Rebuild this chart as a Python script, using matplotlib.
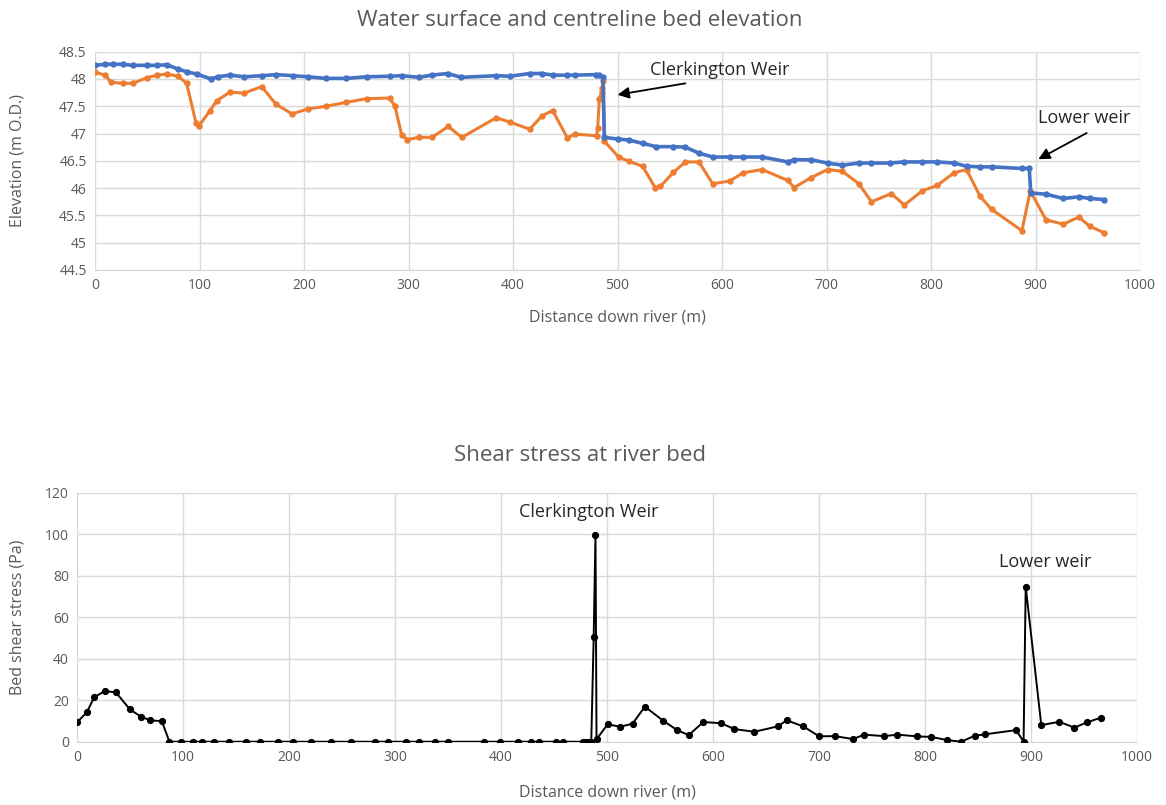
import matplotlib
matplotlib.use("Agg")
import matplotlib.pyplot as plt

# ---------------- data ----------------
# Water surface (blue)
ws_x = [0, 10, 17, 26.5, 36, 49.5, 59, 69, 79.5, 88, 97.5, 111, 117.5, 129, 143, 160, 173.5,
        189, 203.5, 221, 240, 260, 282, 293.5, 310, 322, 337.5, 350.5, 384, 397, 416, 428,
        438, 452, 459, 479.5, 482, 486, 487.4, 500, 511, 524, 537, 553, 565, 578, 591,
        607.5, 620, 638.5, 663, 669, 685, 701, 715, 731, 743, 760.5, 774, 791.5, 806,
        822, 834, 847, 858, 887, 894, 895.5, 910, 926.5, 941.5, 952, 966]
ws_y = [48.25, 48.27, 48.27, 48.27, 48.25, 48.25, 48.25, 48.26, 48.18, 48.13, 48.09, 48.00,
        48.04, 48.07, 48.04, 48.06, 48.08, 48.06, 48.04, 48.01, 48.01, 48.04, 48.05, 48.06,
        48.03, 48.07, 48.10, 48.03, 48.06, 48.05, 48.10, 48.10, 48.07, 48.07, 48.07, 48.08,
        48.07, 48.03, 46.93, 46.90, 46.88, 46.82, 46.76, 46.76, 46.75, 46.64, 46.57, 46.57,
        46.57, 46.57, 46.48, 46.52, 46.52, 46.46, 46.42, 46.46, 46.46, 46.46, 46.48, 46.48,
        46.48, 46.46, 46.40, 46.39, 46.39, 46.36, 46.36, 45.91, 45.89, 45.81, 45.84, 45.81,
        45.79]

# Centreline bed (orange)
bed_x = [0, 10, 15, 26.5, 36, 49.5, 59, 69, 79.5, 87.7, 96.7, 99.5, 110, 116.5, 129, 142.5,
         159.5, 173, 188.5, 203.5, 221, 240, 260, 282, 287, 293.5, 299, 310, 322.5, 338,
         351, 384, 397, 416, 428, 438, 452, 459, 480, 481, 482.6, 485, 485.5, 486.5, 487.4,
         501, 511, 524, 536, 541, 553.5, 565, 578, 591, 607.5, 620, 638.5, 663, 669, 685,
         701, 715, 731, 743, 762, 774.5, 791.5, 806, 822, 834, 847, 858, 887, 895, 910,
         926.5, 941.5, 952, 966]
bed_y = [48.12, 48.07, 47.94, 47.92, 47.92, 48.02, 48.07, 48.09, 48.05, 47.92, 47.19, 47.14,
         47.42, 47.60, 47.76, 47.74, 47.86, 47.54, 47.36, 47.45, 47.50, 47.57, 47.64, 47.65,
         47.50, 46.97, 46.89, 46.93, 46.93, 47.13, 46.93, 47.29, 47.21, 47.08, 47.33, 47.42,
         46.92, 46.99, 46.96, 47.10, 47.63, 47.77, 47.83, 47.97, 46.86, 46.57, 46.49, 46.40,
         46.01, 46.03, 46.29, 46.48, 46.48, 46.08, 46.13, 46.28, 46.34, 46.14, 46.01, 46.19,
         46.34, 46.31, 46.08, 45.75, 45.90, 45.69, 45.95, 46.05, 46.28, 46.34, 45.85, 45.61,
         45.22, 45.95, 45.42, 45.34, 45.47, 45.30, 45.18]

# Bed shear stress (black)
ss_x = [0, 9, 16, 26, 36.4, 49.6, 60, 69, 79.7, 87, 98, 109, 117.6, 129, 142.7, 159, 172.5,
        189.5, 204, 221, 239, 258.7, 281, 293.5, 310, 322.7, 337.5, 350, 384, 398.6, 416,
        428.4, 436, 452, 458.8, 477.6, 480, 482.5, 485, 487.3, 489, 490, 500.5, 512.4, 524,
        535.6, 553, 566, 577, 590.8, 607.7, 620, 639, 661, 669.5, 685, 700, 714.7, 732,
        742.6, 761.4, 774, 792, 806, 820.8, 834, 847, 857, 886, 893, 895, 909.7, 926.7,
        941, 952.6, 966]
ss_y = [9.5, 14.2, 21.5, 24.4, 23.8, 15.6, 12.1, 10.3, 9.9, 0, 0, 0, 0, 0, 0, 0, 0,
        0, 0, 0, 0, 0, 0, 0, 0, 0, 0, 0, 0, 0, 0,
        0, 0, 0, 0, 0, 0, 0, 0, 50.3, 99.6, 1.2, 8.4, 7.2, 8.7,
        16.9, 10.1, 5.6, 3.2, 9.5, 8.9, 6.1, 4.8, 7.4, 10.3, 7.4, 2.6, 2.7, 1.3,
        3.4, 2.7, 3.4, 2.6, 2.3, 0.8, 0, 2.9, 3.6, 5.6, 0, 74.7, 8.0, 9.6,
        6.8, 9.3, 11.6]

top_title = "Water surface and centreline bed elevation"
bot_title = "Shear stress at river bed"
x_label = "Distance down river (m)"
top_ylabel = "Elevation (m O.D.)"
bot_ylabel = "Bed shear stress (Pa)"
top_yticks = [44.5, 45, 45.5, 46, 46.5, 47, 47.5, 48, 48.5]
top_yticklabels = ["44.5", "45", "45.5", "46", "46.5", "47", "47.5", "48", "48.5"]
xticks = list(range(0, 1001, 100))
bot_yticks = list(range(0, 121, 20))

# ---------------- style ----------------
plt.rcParams['font.family'] = ['Open Sans', 'DejaVu Sans']
TXT = "#595959"
GRID = "#D9D9D9"
BLUE = "#4472C4"
ORANGE = "#ED7D31"
ANN = "#262626"

fig = plt.figure(figsize=(11.66, 8.05), dpi=100)

def style_axes(ax):
    for s in ax.spines.values():
        s.set_visible(False)
    ax.spines['bottom'].set_visible(True)
    ax.spines['bottom'].set_color(GRID)
    ax.grid(True, color=GRID, linewidth=1.0)
    ax.set_axisbelow(True)
    ax.tick_params(length=0, colors=TXT, labelsize=10, pad=6)

arrow_kw = dict(arrowstyle='-|>', color='black', lw=1.3, mutation_scale=17,
                shrinkA=0, shrinkB=0)

# ---- top chart ----
ax1 = fig.add_axes([0.0815, 0.6646, 0.9777 - 0.0815, 0.9358 - 0.6646])
style_axes(ax1)
ax1.plot(bed_x, bed_y, color=ORANGE, linewidth=2.2, marker='o', markersize=3.6, zorder=3)
ax1.plot(ws_x, ws_y, color=BLUE, linewidth=2.6, marker='o', markersize=3.6, zorder=4)
ax1.set_xlim(0, 1000)
ax1.set_ylim(44.5, 48.5)
ax1.set_xticks(xticks)
ax1.set_yticks(top_yticks)
ax1.set_yticklabels(top_yticklabels)
ax1.set_xlabel(x_label, fontsize=11.5, color=TXT)
ax1.xaxis.set_label_coords(0.5, -0.183)
ax1.set_ylabel(top_ylabel, fontsize=11.5, color=TXT)
ax1.yaxis.set_label_coords(-0.067, 0.5)
ax1.text(531, 48.17, "Clerkington Weir", fontsize=13, color=ANN, va='center', ha='left')
ax1.annotate("", xy=(500, 47.71), xytext=(565, 47.92), arrowprops=arrow_kw)
ax1.text(902, 47.28, "Lower weir", fontsize=13, color=ANN, va='center', ha='left')
ax1.annotate("", xy=(902.7, 46.53), xytext=(949, 47.01), arrowprops=arrow_kw)

fig.text(580 / 1166, 1 - 20 / 805, top_title, fontsize=16, color=TXT,
         ha='center', va='center')

# ---- bottom chart ----
ax2 = fig.add_axes([0.0663, 0.0786, 0.9751 - 0.0663, 0.3880 - 0.0786])
style_axes(ax2)
ax2.plot(ss_x, ss_y, color='black', linewidth=1.4, marker='o', markersize=4.2, zorder=3)
ax2.set_xlim(0, 1000)
ax2.set_ylim(0, 120)
ax2.set_xticks(xticks)
ax2.set_yticks(bot_yticks)
ax2.set_xlabel(x_label, fontsize=11.5, color=TXT)
ax2.xaxis.set_label_coords(0.5, -0.17)
ax2.set_ylabel(bot_ylabel, fontsize=11.5, color=TXT)
ax2.yaxis.set_label_coords(-0.049, 0.5)
ax2.text(483, 110.7, "Clerkington Weir", fontsize=13, color=ANN, ha='center', va='center')
ax2.text(913, 86.6, "Lower weir", fontsize=13, color=ANN, ha='center', va='center')

fig.text(580 / 1166, 1 - 455 / 805, bot_title, fontsize=16, color=TXT,
         ha='center', va='center')

fig.savefig("out.png", dpi=100)
